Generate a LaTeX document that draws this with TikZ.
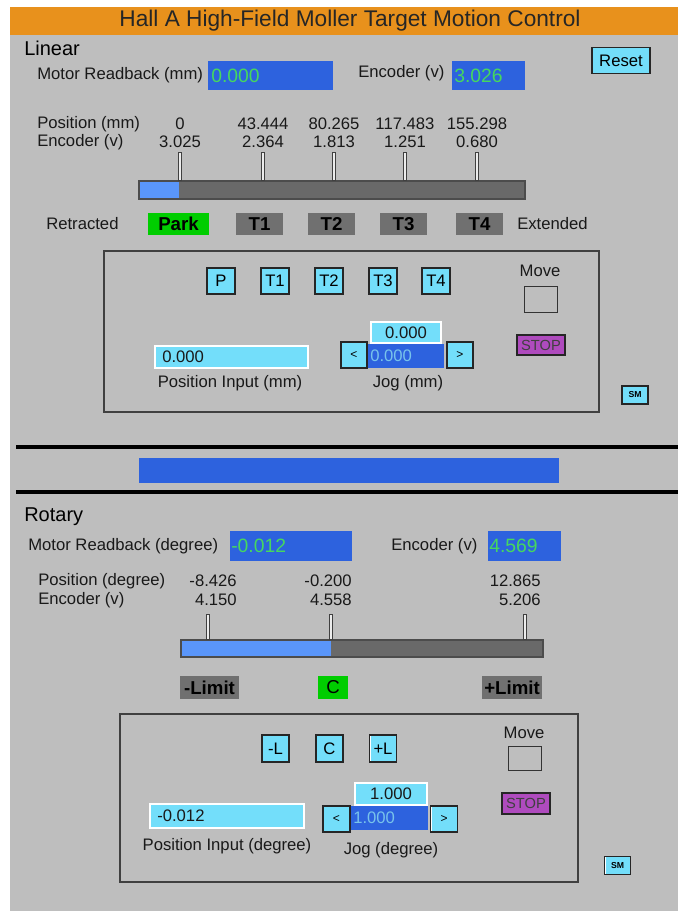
\documentclass[tikz,border=0pt]{standalone}
\usepackage{fontspec}
\setmainfont{Liberation Sans}
\usetikzlibrary{positioning}

\definecolor{titleorange}{RGB}{232,145,28}
\definecolor{panelgray}{RGB}{190,190,190}
\definecolor{readblue}{RGB}{45,98,222}
\definecolor{readgreen}{RGB}{70,215,95}
\definecolor{btncyan}{RGB}{115,222,250}
\definecolor{barblue}{RGB}{90,150,250}
\definecolor{bargray}{RGB}{105,105,105}
\definecolor{stategray}{RGB}{112,112,112}
\definecolor{stategreen}{RGB}{0,205,0}
\definecolor{stoppurple}{RGB}{175,75,190}
\definecolor{jogtxt}{RGB}{120,195,235}

\tikzset{
  lbl/.style={font=\fontsize{12.5}{14}\selectfont, inner sep=0pt, text=black!90},
  headtxt/.style={font=\fontsize{15}{17}\selectfont, inner sep=0pt},
  titletxt/.style={font=\fontsize{17}{19}\selectfont, inner sep=0pt, text=black!85},
  valtxt/.style={font=\fontsize{14.5}{16}\selectfont, inner sep=0pt, text=readgreen},
  jogval/.style={font=\fontsize{12.5}{14}\selectfont, inner sep=0pt, text=jogtxt},
  btn/.style={fill=btncyan, draw=black!85, line width=0.9pt, inner sep=0pt,
    font=\fontsize{12.5}{14}\selectfont,
    path picture={\draw[white, line width=1.5pt]
      (path picture bounding box.south west) -- (path picture bounding box.north west)
      -- (path picture bounding box.north east);}},
  statebox/.style={fill=stategray, inner sep=0pt, minimum height=17pt,
    font=\fontsize{14}{16}\selectfont\bfseries},
  stopbtn/.style={btn, fill=stoppurple, font=\fontsize{11}{12}\selectfont, text=black!75},
  smbtn/.style={btn, font=\fontsize{6.5}{7}\selectfont\bfseries},
  movebox/.style={draw=black!80, line width=0.7pt, inner sep=0pt},
  inbox/.style={fill=btncyan, draw=white, line width=1.4pt},
  frame/.style={draw=black!75, line width=1pt},
  bar/.style={fill=bargray, draw=black!70, line width=1.2pt},
  tickout/.style={black!75, line width=2.6pt},
  tickin/.style={white!85!gray, line width=0.8pt},
  sep/.style={black, line width=2.4pt}
}

\begin{document}
\begin{tikzpicture}[x=0.75pt,y=-0.75pt]
    \useasboundingbox (0,0) rectangle (678,911);
    \fill[panelgray] (10,7) rectangle (678,911);

    % title
    \fill[titleorange] (10,7) rectangle (678,35);
    \node[titletxt] (title) at (350,21) {Hall A High-Field Moller Target Motion Control};

    % ---------- linear ----------
    \node[headtxt, anchor=west] (linear) at (24,48) {Linear};
    \node[lbl, anchor=west] (linrbl) at (37,75) {Motor Readback (mm)};
    \fill[readblue] (208,61) rectangle (333,90);
    \node[valtxt, anchor=west] (linrb) at (211,76) {0.000};
    \node[lbl, anchor=west] (linencl) at (358,73) {Encoder (v)};
    \fill[readblue] (452,61) rectangle (525,90);
    \node[valtxt, anchor=west] (linenc) at (454,76) {3.026};
    \node[btn, minimum width=43.5pt, minimum height=20pt] (reset) at (621,60.5) {Reset};

    \node[lbl, anchor=west] (linposl) at (37,124) {Position (mm)};
    \node[lbl, anchor=west] (linvl) at (37,142) {Encoder (v)};
    \draw[bar] (139,181) rectangle (525,199);
    \fill[barblue] (140,182) rectangle (179,198);
    \foreach \x/\p/\e [count=\i] in {180/0/3.025, 263/43.444/2.364, 334/80.265/1.813,
        405/117.483/1.251, 477/155.298/0.680} {
      \node[lbl] (linp\i) at (\x,124) {\p};
      \node[lbl] (line\i) at (\x,142) {\e};
      \draw[tickout] (\x,152) -- (\x,181);
      \draw[tickin] (\x,153) -- (\x,180);
    }

    \node[lbl, anchor=west] (retr) at (46,224) {Retracted};
    \node[statebox, fill=stategreen, minimum width=45.75pt] (park) at (178.5,224) {Park};
    \foreach \x/\t in {259.5/T1, 331.5/T2, 403.5/T3, 479.5/T4}
      \node[statebox, minimum width=35pt] (lin\t) at (\x,224) {\t};
    \node[lbl, anchor=west] (ext) at (517,224) {Extended};

    \draw[frame] (104,251) rectangle (599,412);
    \foreach \x/\t in {221/P, 275/T1, 329/T2, 383/T3, 436/T4}
      \node[btn, minimum width=21pt, minimum height=19.5pt] (go\t) at (\x,281) {\t};
    \node[lbl] (linmovel) at (540,271) {Move};
    \node[movebox, minimum width=24.75pt, minimum height=19.5pt] (linmove) at (540.5,299) {};
    \node[stopbtn, minimum width=36pt, minimum height=15pt] (linstop) at (541,345) {STOP};

    \draw[inbox] (155,346) rectangle (308,368);
    \node[lbl, anchor=west] (linposin) at (162,357) {0.000};
    \node[lbl] (linposinl) at (230,383) {Position Input (mm)};

    \draw[inbox] (371,322) rectangle (441,343);
    \node[lbl] (linstep) at (406,332.5) {0.000};
    \fill[readblue] (368,344) rectangle (444,368);
    \node[jogval, anchor=west] (linjog) at (370,356) {0.000};
    \node[btn, minimum width=19.5pt, minimum height=19.5pt, font=\fontsize{9}{10}\selectfont] (linless) at (354,355) {<};
    \node[btn, minimum width=19.5pt, minimum height=19.5pt, font=\fontsize{9}{10}\selectfont] (linmore) at (460,355) {>};
    \node[lbl] (linjogl) at (408,383) {Jog (mm)};
    \node[smbtn, minimum width=19.5pt, minimum height=13.5pt] (linsm) at (635,395) {SM};

    % ---------- separator ----------
    \draw[sep] (16,447) -- (678,447);
    \fill[readblue] (139,458) rectangle (559,483);
    \draw[sep] (16,492) -- (678,492);

    % ---------- rotary ----------
    \node[headtxt, anchor=west] (rotary) at (24,517) {Rotary};
    \node[lbl, anchor=west] (rotrbl) at (28,546) {Motor Readback (degree)};
    \fill[readblue] (230,531) rectangle (352,561);
    \node[valtxt, anchor=west] (rotrb) at (231,546) {-0.012};
    \node[lbl, anchor=west] (rotencl) at (391,546) {Encoder (v)};
    \fill[readblue] (488,531) rectangle (561,561);
    \node[valtxt, anchor=west] (rotenc) at (489,546) {4.569};

    \node[lbl, anchor=west] (rotposl) at (38,581) {Position (degree)};
    \node[lbl, anchor=west] (rotvl) at (38,600) {Encoder (v)};
    \draw[bar] (181,640) rectangle (543,657);
    \fill[barblue] (182,641) rectangle (331,656);
    \foreach \r/\x/\p/\e [count=\i] in {237/208/-8.426/4.150, 352/331/-0.200/4.558,
        541/525/12.865/5.206} {
      \node[lbl, anchor=east] (rotp\i) at (\r,581) {\p};
      \node[lbl, anchor=east] (rote\i) at (\r,600) {\e};
      \draw[tickout] (\x,614) -- (\x,640);
      \draw[tickin] (\x,615) -- (\x,639);
    }

    \node[statebox, minimum width=44.25pt] (minlim) at (209.5,687.5) {-Limit};
    \node[statebox, fill=stategreen, minimum width=22.5pt, font=\fontsize{14}{16}\selectfont] (center) at (333,687.5) {C};
    \node[statebox, minimum width=45pt] (pluslim) at (512,687.5) {+Limit};

    \draw[frame] (120,714) rectangle (578,882);
    \foreach \x/\t/\n in {275.5/-L/goml, 329.5/C/goc, 383/+L/gopl}
      \node[btn, minimum width=20.25pt, minimum height=20.25pt] (\n) at (\x,748.5) {\t};
    \node[lbl] (rotmovel) at (524,733) {Move};
    \node[movebox, minimum width=24.75pt, minimum height=18pt] (rotmove) at (524.5,758) {};
    \node[stopbtn, minimum width=36pt, minimum height=15.75pt] (rotstop) at (526,803.5) {STOP};

    \draw[inbox] (150,804) rectangle (304,828);
    \node[lbl, anchor=west] (rotposin) at (157,816) {-0.012};
    \node[lbl] (rotposinl) at (227,846) {Position Input (degree)};

    \draw[inbox] (355,783) rectangle (427,805);
    \node[lbl] (rotstep) at (391,794) {1.000};
    \fill[readblue] (351,806) rectangle (428,830);
    \node[jogval, anchor=west] (rotjog) at (353,818) {1.000};
    \node[btn, minimum width=20.25pt, minimum height=19.5pt, font=\fontsize{9}{10}\selectfont] (rotless) at (336.5,819) {<};
    \node[btn, minimum width=20.25pt, minimum height=19.5pt, font=\fontsize{9}{10}\selectfont] (rotmore) at (444,819) {>};
    \node[lbl] (rotjogl) at (391,850) {Jog (degree)};
    \node[smbtn, minimum width=19.5pt, minimum height=14pt] (rotsm) at (617.5,865.5) {SM};
\end{tikzpicture}
\end{document}
